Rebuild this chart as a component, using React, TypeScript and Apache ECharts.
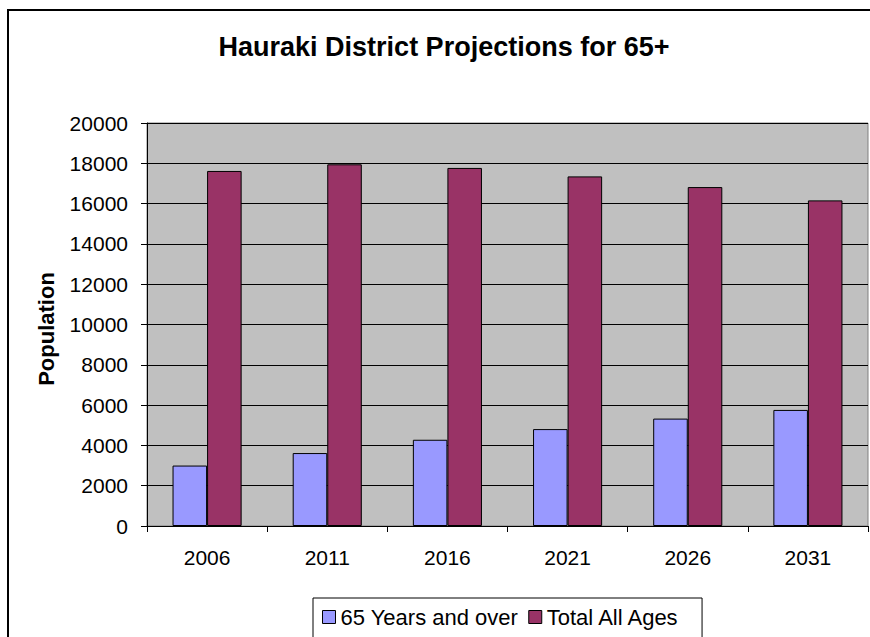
import React, { useEffect, useRef } from "react";
import * as echarts from "echarts";

const categories = ["2006", "2011", "2016", "2021", "2026", "2031"];
const seniors = [3000, 3620, 4280, 4810, 5330, 5760];
const totalAllAges = [17620, 17950, 17770, 17350, 16820, 16160];
const seriesNames = ["65 Years and over", "Total All Ages"];
const yAxisTitle = "Population";

const FONT = "Liberation Sans, Arial, sans-serif";

export default function App() {
  const ref = useRef<HTMLDivElement>(null);
  useEffect(() => {
    if (!ref.current) return;
    const chart = echarts.init(ref.current, null, { renderer: "svg" });
    chart.setOption({
      animation: false,
      textStyle: { fontFamily: FONT, color: "#000" },
      title: {
        text: "Hauraki District Projections for 65+",
        left: 439,
        top: 28,
        textAlign: "center",
        textStyle: { fontSize: 27, fontWeight: "bold", color: "#000", fontFamily: FONT },
      },
      graphic: [
        {
          type: "rect",
          shape: { x: 8, y: 10, width: 900, height: 700 },
          style: { fill: "none", stroke: "#000", lineWidth: 2 },
          silent: true,
        },
        {
          type: "text",
          x: 46,
          y: 329,
          rotation: Math.PI / 2,
          style: {
            text: yAxisTitle,
            font: "bold 22px " + FONT,
            fill: "#000",
            align: "center",
            verticalAlign: "middle",
          },
          silent: true,
        },
      ],
      legend: {
        data: seriesNames,
        left: 313,
        top: 598,
        itemWidth: 13,
        itemHeight: 13,
        itemGap: 10,
        icon: "rect",
        borderColor: "#000",
        borderWidth: 1,
        backgroundColor: "#fff",
        padding: [8, 22, 24, 9],
        itemStyle: { borderColor: "#000", borderWidth: 1 },
        textStyle: { fontSize: 22, color: "#000", fontFamily: FONT },
      },
      grid: {
        left: 147,
        right: 2,
        top: 123,
        bottom: 111,
        show: true,
        backgroundColor: "#C0C0C0",
        borderColor: "#808080",
        borderWidth: 1,
      },
      xAxis: {
        type: "category",
        data: categories,
        axisLine: { lineStyle: { color: "#000", width: 1 } },
        axisTick: { show: true, length: 6, lineStyle: { color: "#000" } },
        axisLabel: { fontSize: 21, color: "#000", margin: 21 },
      },
      yAxis: {
        type: "value",
        min: 0,
        max: 20000,
        interval: 2000,
        axisLine: { show: true, lineStyle: { color: "#000", width: 1 } },
        axisTick: { show: true, length: 6, lineStyle: { color: "#000" } },
        axisLabel: { fontSize: 21, color: "#000", margin: 19, formatter: (v: number) => String(v) },
        splitLine: { show: true, lineStyle: { color: "#000", width: 1 } },
      },
      series: [
        {
          name: seriesNames[0],
          type: "bar",
          data: seniors,
          barGap: "0%",
          barCategoryGap: "42.5%",
          itemStyle: { color: "#9999FF", borderColor: "#000", borderWidth: 1 },
        },
        {
          name: seriesNames[1],
          type: "bar",
          data: totalAllAges,
          barGap: "0%",
          barCategoryGap: "42.5%",
          itemStyle: { color: "#993366", borderColor: "#000", borderWidth: 1 },
        },
      ],
    });
    return () => chart.dispose();
  }, []);
  return (
    <div
      ref={ref}
      style={{ position: "fixed", left: 0, top: 0, width: 870, height: 637, background: "#fff" }}
    />
  );
}
